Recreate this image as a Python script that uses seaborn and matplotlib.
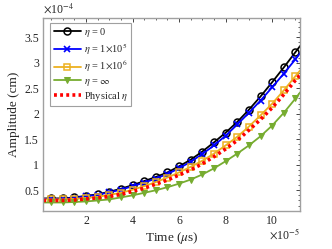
import matplotlib
matplotlib.use("Agg")
import matplotlib.pyplot as plt
import numpy as np
import seaborn as sns
from matplotlib.ticker import MultipleLocator

# time in units of 1e-5, amplitude in units of 1e-4
time = [0.16, 0.5, 1.0, 1.5, 2.0, 2.5, 3.0, 3.5, 4.0, 4.5, 5.0, 5.5, 6.0,
        6.5, 7.0, 7.5, 8.0, 8.5, 9.0, 9.5, 10.0, 10.5, 11.0, 11.2]
amp_eta0 = [0.34, 0.34, 0.34, 0.36, 0.39, 0.42, 0.47, 0.53, 0.60, 0.68, 0.76, 0.85,
            0.97, 1.10, 1.26, 1.44, 1.63, 1.84, 2.08, 2.34, 2.62, 2.91, 3.21, 3.33]
amp_eta1e5 = [0.33, 0.33, 0.33, 0.35, 0.38, 0.41, 0.46, 0.51, 0.58, 0.65, 0.73, 0.82,
              0.93, 1.06, 1.21, 1.38, 1.57, 1.79, 2.02, 2.26, 2.52, 2.79, 3.07, 3.19]
amp_eta1e6 = [0.32, 0.32, 0.32, 0.33, 0.35, 0.37, 0.41, 0.45, 0.51, 0.58, 0.66, 0.75,
              0.85, 0.96, 1.08, 1.22, 1.38, 1.55, 1.75, 1.97, 2.20, 2.46, 2.74, 2.85]
amp_etainf = [0.26, 0.26, 0.26, 0.27, 0.28, 0.30, 0.32, 0.36, 0.40, 0.45, 0.50, 0.56,
              0.63, 0.71, 0.81, 0.93, 1.07, 1.22, 1.38, 1.56, 1.77, 2.02, 2.30, 2.42]
amp_phys = [0.30, 0.30, 0.30, 0.31, 0.33, 0.35, 0.38, 0.42, 0.48, 0.54, 0.62, 0.70,
            0.80, 0.90, 1.02, 1.16, 1.31, 1.48, 1.68, 1.89, 2.12, 2.38, 2.66, 2.76]

sns.set_style("white")
plt.rcParams["font.family"] = ["Liberation Serif", "DejaVu Serif"]
plt.rcParams["mathtext.fontset"] = "stix"

fig = plt.figure(figsize=(3.32, 2.49), dpi=100)
ax = fig.add_axes([0.13, 0.154, 0.774, 0.774])

marks = list(range(1, len(time) - 1))
sns.lineplot(x=time, y=amp_eta0, ax=ax, color="black", lw=1.3, marker="o",
             markersize=5, markerfacecolor="none", markeredgecolor="black",
             markeredgewidth=1.1, markevery=marks, label=r"$\eta$ = 0")
sns.lineplot(x=time, y=amp_eta1e5, ax=ax, color="#0000ff", lw=1.3, marker="x",
             markersize=4, markeredgecolor="#0000ff", markeredgewidth=1.2,
             markevery=marks, label=r"$\eta$ = 1$\times$10$^5$")
sns.lineplot(x=time, y=amp_eta1e6, ax=ax, color="#edb120", lw=1.3, marker="s",
             markersize=4.5, markerfacecolor="none", markeredgecolor="#edb120",
             markeredgewidth=1.1, markevery=marks, label=r"$\eta$ = 1$\times$10$^6$")
sns.lineplot(x=time, y=amp_etainf, ax=ax, color="#77ac30", lw=1.3, marker="v",
             markersize=5, markerfacecolor="#77ac30", markeredgecolor="#77ac30",
             markevery=marks, label=r"$\eta$ = $\infty$")
sns.lineplot(x=time, y=amp_phys, ax=ax, color="#ff0000", lw=2.6,
             linestyle=(0, (0.8, 0.9)), label=r"Physical $\eta$")

ax.set_xlim(0.16, 11.2)
ax.set_ylim(0.1, 3.88)
ax.set_xticks([2, 4, 6, 8, 10])
ax.set_xticklabels(["2", "4", "6", "8", "10"])
ax.set_yticks([0.5, 1, 1.5, 2, 2.5, 3, 3.5])
ax.set_yticklabels(["0.5", "1", "1.5", "2", "2.5", "3", "3.5"])
ax.xaxis.set_minor_locator(MultipleLocator(0.5))
ax.yaxis.set_minor_locator(MultipleLocator(0.1))
ax.tick_params(which="both", direction="in", top=True, right=True,
               labelsize=8.5, colors="#262626", pad=3)
ax.tick_params(which="major", length=3, width=0.6)
ax.tick_params(which="minor", length=1.6, width=0.5)
for s in ax.spines.values():
    s.set_color("#a0a0a0")
    s.set_linewidth(1.0)

ax.set_xlabel(r"Time ($\mu$s)", fontsize=9.5, color="#262626", labelpad=2)
ax.set_ylabel("Amplitude (cm)", fontsize=9.5, color="#262626", labelpad=3)
ax.text(0.0, 1.012, r"$\times$10$^{-4}$", transform=ax.transAxes,
        fontsize=8.5, color="#262626", ha="left", va="bottom")
ax.text(1.0, -0.085, r"$\times$10$^{-5}$", transform=ax.transAxes,
        fontsize=8.5, color="#262626", ha="right", va="top")

leg = ax.legend(loc="upper left", bbox_to_anchor=(0.02, 0.985), fontsize=7.5,
                frameon=True, fancybox=False, handlelength=2.6, handletextpad=0.3,
                labelspacing=0.2, borderpad=0.3, borderaxespad=0.2)
leg.get_frame().set_edgecolor("#a0a0a0")
leg.get_frame().set_linewidth(0.8)
leg.get_frame().set_alpha(1)

fig.savefig("out.png", dpi=100)
